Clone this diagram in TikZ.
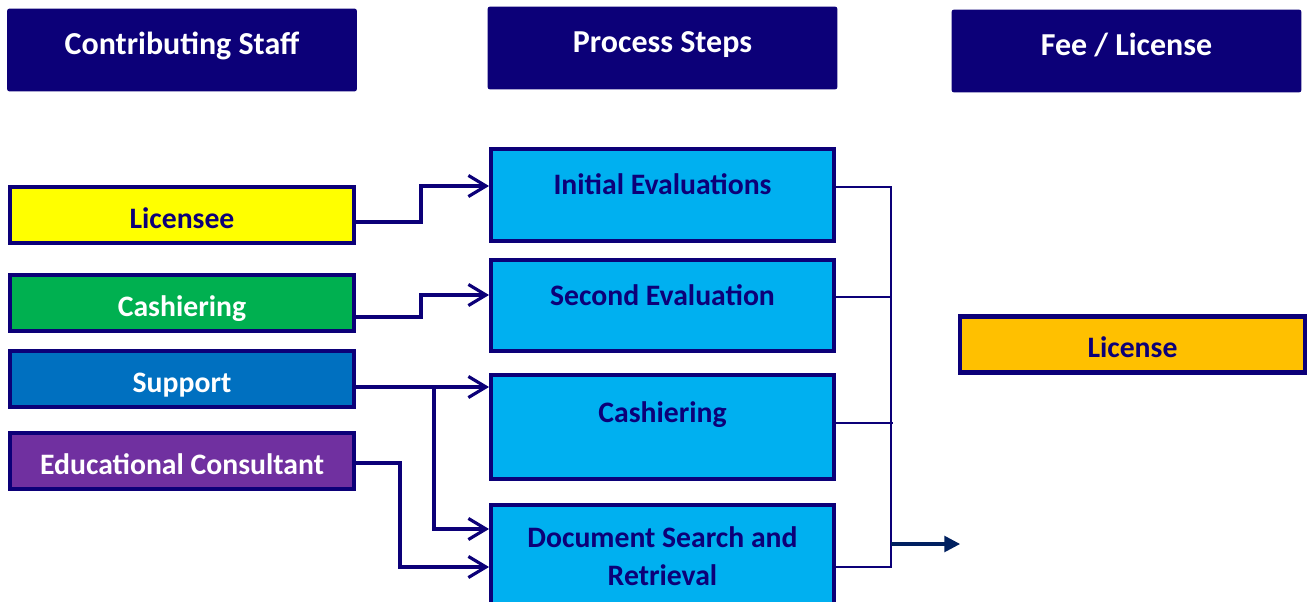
\documentclass[tikz,border=0pt]{standalone}
\usepackage{fontspec}
\setmainfont{Carlito}
\usetikzlibrary{arrows.meta}
\definecolor{navy}{RGB}{12,0,120}
\definecolor{darknavy}{RGB}{0,32,96}
\definecolor{yel}{RGB}{255,255,0}
\definecolor{grn}{RGB}{0,176,80}
\definecolor{blu}{RGB}{0,112,192}
\definecolor{pur}{RGB}{112,48,160}
\definecolor{sky}{RGB}{0,176,240}
\definecolor{amber}{RGB}{255,192,0}

\begin{document}
\begin{tikzpicture}[x=0.02cm, y=-0.02cm,
    txt/.style={font=\fontsize{16.9}{21.5}\selectfont\bfseries, align=center},
    head/.style={font=\fontsize{18.2}{22}\selectfont\bfseries, fill=navy, text=white,
      rounded corners=1.5pt, text height=12pt, text depth=7pt,
      minimum width=7cm, minimum height=1.66cm},
    staff/.style={txt, draw=navy, line width=2.3pt, text height=15pt, text depth=0pt,
      minimum width=6.88cm, minimum height=1.12cm},
    stepbox/.style={draw=navy, line width=2.3pt, fill=sky, minimum width=6.86cm},
    conn/.style={draw=navy, line width=1.8pt, -{Straight Barb[length=10pt,width=12pt]}},
    feed/.style={draw=navy, line width=1.6pt}]
         \clip (0,0) rectangle (1309,602);
         \node [head] (CS) at (182, 50) {Contributing Staff};
         \node [head] (PS) at (662.5, 48) {Process Steps};
         \node [head] (FL) at (1126.5, 51) {Fee / License};
         % staff
         \node [staff, fill=yel, text=navy] (Lic) at (182, 215) {Licensee};
         \node [staff, fill=grn, text=white] (Cash) at (182, 303) {Cashiering};
         \node [staff, fill=blu, text=white] (Sup) at (182, 379) {Support};
         \node [staff, fill=pur, text=white] (Edu) at (182, 461) {Educational Consultant};
         % steps
         \node [stepbox, minimum height=1.84cm] (IE) at (662.5, 195) {};
         \node [stepbox, minimum height=1.82cm] (SE) at (662.5, 305.5) {};
         \node [stepbox, minimum height=2.08cm] (CA) at (662.5, 427) {};
         \node [stepbox, minimum height=2.66cm] (DS) at (662.5, 571.5) {};
         \node [txt, text=navy] (IEt) at (662.5, 184) {Initial Evaluations};
         \node [txt, text=navy] (SEt) at (662.5, 295) {Second Evaluation};
         \node [txt, text=navy] (CAt) at (662.5, 415) {Cashiering};
         \node [txt, text=navy] (DSt) at (662.5, 556) {Document Search and\\Retrieval};
         \node [staff, fill=amber, text=navy, minimum width=6.9cm] (Lcs) at (1132.5, 344.5) {License};
         % connectors
         \draw [conn] (Lic.east |- 0,222) -- (421,222) -- (421,186) -- (IE.west |- 0,186);
         \draw [conn] (Cash.east |- 0,317) -- (421,317) -- (421,295) -- (SE.west |- 0,295);
         \draw [conn] (Sup.east |- 0,387) -- (CA.west |- 0,387);
         \draw [conn] (434,387) -- (434,529) -- (DS.west |- 0,529);
         \draw [conn] (Edu.east |- 0,463) -- (400,463) -- (400,567) -- (DS.west |- 0,567);
         \draw [feed] (IE.east |- 0,187) -- (891,187) -- (891,567);
         \draw [feed] (SE.east |- 0,297) -- (891,297);
         \draw [feed] (CA.east |- 0,423) -- (893,423);
         \draw [feed] (DS.east |- 0,567) -- (891.8,567);
         \coordinate (join) at (891,544);
         \draw [darknavy, line width=1.8pt, -{Triangle[length=9pt,width=9pt]}] (join) -- ([xshift=1.2pt]Lcs.west |- join);
\end{tikzpicture}
\end{document}
